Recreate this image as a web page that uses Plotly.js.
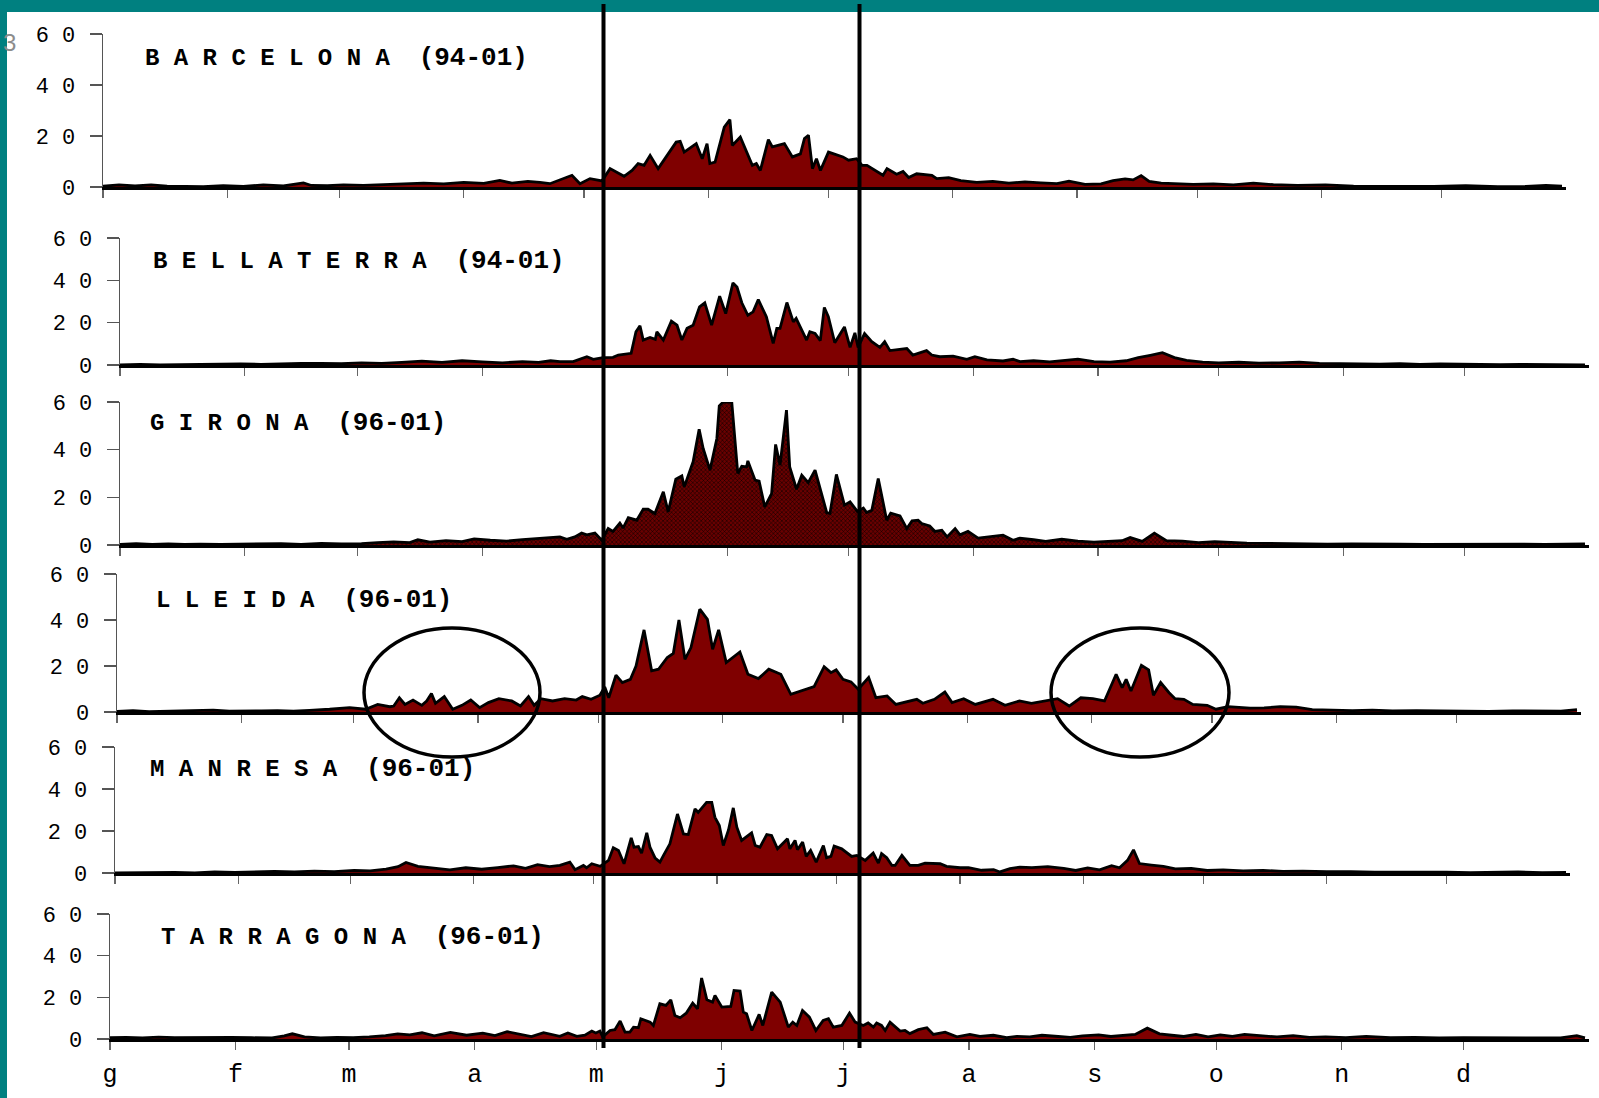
<!DOCTYPE html>
<html>
<head>
<meta charset="utf-8">
<script src="https://cdn.plot.ly/plotly-3.0.1.min.js"></script>
<style>html,body{margin:0;padding:0;background:#fff;}#chart{width:1599px;height:1098px;}</style>
</head>
<body>
<div id="chart"></div>
<script>
// ---- DATA (day of year, daily value) ----
const monthStarts = [0,31,59,90,120,151,181,212,243,273,304,334];
const monthLabels = ['g','f','m','a','m','j','j','a','s','o','n','d'];
const yTickVals = [0,20,40,60];
const yTickText = ['0','2 0','4 0','6 0'];
const stationNames = ['B A R C E L O N A','B E L L A T E R R A','G I R O N A','L L E I D A','M A N R E S A','T A R R A G O N A'];
const stationPeriods = ['(94-01)','(94-01)','(96-01)','(96-01)','(96-01)','(96-01)'];

const barcelona = [[0,0.3],[4,0.8],[8,0.4],[12,0.8],[16,0.3],[20,0.1],[25,0.1],[30,0.5],[35,0.2],[40,0.8],[45,0.4],[50,1.6],[52,0.6],[56,0.5],[60,0.8],[65,0.6],[70,0.9],[75,1.2],[80,1.5],[85,1.2],[90,1.8],[95,1.4],[99,2.6],[102,1.5],[106,2.2],[109,1.8],
[111.5,1.3],[117,4.6],[119,1.3],[121.5,3.3],[124.5,2.4],[126.5,7.2],[130,4.2],[132,6.5],[133.5,9.2],[135,8.5],[136.5,12.4],[138.5,7.2],[140,10.5],[143,17.6],[144,17.9],[145,13.7],[148,17],[149.5,11.1],[150.7,17],[151.4,9.2],[152.7,9.8],[155,23.5],[156.4,26.4],[157,16.3],[159,19.6],[162,8.5],[163,9.2],[164,6.5],[166,18.6],[167,15.7],[170,17],[172,11.8],[174,13],[175,19],[176,20.3],[177,7.2],[178,11.1],[179,6.5],[181,13.7],[184.6,11.8],[186,10.5],[188,11.1],[189.4,8.5],[190.6,8.5],[194.6,4.6],[195.6,7.2],[198,5],[199.6,6.1],[201,3.7],[203,5.2],[206.8,4.6],[208,3.3],[211,3.7],
[214,2.5],[218,1.8],[222,2.2],[226,1.5],[230,2.0],[234,1.6],[238,1.3],[241,2.3],[245,1.0],[249,1.2],[252,2.5],[255,3.2],[257,2.8],[259,4.5],[261,2.2],[264,1.5],[268,1.2],[272,1.0],[277,1.2],[282,0.8],[287,1.5],[292,0.9],[298,0.6],[305,0.8],[312,0.3],[318,0.3],[325,0.2],[332,0.2],[340,0.5],[348,0.1],[355,0.2],[360,0.6],[364,0.3]];

const bellaterra = [[0,0.1],[5,0.3],[10,0.1],[15,0.2],[20,0.4],[25,0.2],[30,0.5],[35,0.3],[40,0.6],[45,0.8],[50,0.7],[55,0.6],[60,1.0],[65,0.8],[70,1.2],[75,1.8],[80,1.2],[85,2.0],[90,1.5],[95,1.0],[100,1.6],[104,1.2],[107,2.0],
[109.3,1.6],[112.6,1.6],[116,3.9],[117.6,2.7],[120,3.5],[122.5,3.6],[123.8,4.7],[127,5.5],[128.2,15.7],[129.2,18.5],[130,11.8],[131.7,13],[133,12.1],[133.4,15.7],[135,11.8],[137,20.7],[138.4,18.8],[139.6,11.8],[140.9,17.3],[142.4,18.8],[144,27.5],[145.3,29.4],[147,18.8],[149,32.5],[150.5,24.3],[152.3,38.8],[153.3,36.9],[154.5,29.4],[156,23.5],[157.3,25.1],[158.6,30.9],[160.6,22.8],[162.3,10.2],[163.2,17.3],[164,17.3],[165.7,29.5],[167.3,20.4],[168,22],[170.6,11.8],[171.4,15.7],[172.7,14.9],[174,11.5],[175,27.2],[176,22.8],[177.6,10.5],[180,18],[181.4,8.3],[182.6,15.2],[183.4,8.3],[185,14.9],[186.8,11],[188.8,8.3],[190,11],[191.3,6.8],[195.5,7.8],[197,4.7],[200.4,6.8],[201.7,4.7],[203.7,3.9],[207,4.2],[210.4,2.7],[212.4,3.9],[215.4,2.4],[219.4,1.9],[221.9,2.7],[223.6,1.6],
[227,2.0],[231,1.5],[235,2.2],[238,2.8],[242,1.6],[246,1.4],[250,2.0],[253,3.5],[256,4.6],[259,5.8],[262,3.5],[265,2.2],[269,1.4],[273,1.0],[278,1.3],[283,0.9],[288,1.0],[293,1.4],[298,0.8],[303,0.6],[308,0.5],[313,0.4],[318,0.6],[323,0.3],[328,0.5],[333,0.3],[338,0.4],[343,0.2],[348,0.3],[353,0.2],[358,0.3],[364,0.1]];

const girona = [[0,0.3],[4,0.6],[8,0.2],[12,0.5],[16,0.2],[20,0.4],[25,0.3],[30,0.5],[35,0.4],[40,0.6],[45,0.3],[50,0.7],[55,0.5],[60,0.6],[64,1.0],[68,1.3],[72,1.0],[74,2.2],[77,1.2],[81,1.8],[85,1.4],[88,2.6],[92,2.0],[96,1.6],[100,2.3],[104,2.8],[107,3.2],
[109.3,3.4],[111,2.4],[113,3.4],[114.7,5],[116,4.3],[118,5],[119.7,2],[121.3,6.9],[122.5,5.7],[124.2,9.2],[125,7.1],[126.3,11.5],[128.4,10.4],[130,15],[131.2,15],[132.9,13.2],[135,22.3],[136.2,13.9],[138.1,27.6],[139.6,29],[140.2,24.4],[142.4,34.9],[143.9,48.6],[144.9,40.5],[146.6,31.4],[148.3,44.7],[148.9,58.4],[149.9,60],[152,60],[153.5,30],[154.5,33],[155.7,32.8],[156,35.3],[157.8,27.2],[158.8,26.8],[160.2,16],[161.9,21.6],[162.9,42.2],[164,33.5],[165.6,56.6],[166.4,32.8],[168.1,23.4],[169.4,29.3],[171,26.2],[172.7,31.4],[175.6,13.6],[176.4,13.2],[178,29.6],[180,16.7],[181.4,18.1],[183.2,14.1],[184.7,15.5],[185.5,13.6],[186.8,14.6],[188.4,27.9],[190.5,10.4],[191.5,13.4],[193.8,12.2],[195.5,6.9],[196.8,10.1],[198.3,10.4],[199.2,9],[201.2,8],[202.5,5.7],[204.2,6.2],[205.5,3.4],[207.5,6.9],[208.7,4.3],[210.7,5.7],[213.2,2.9],[216.1,3.4],[219.4,4.1],[221.9,2],[223.6,2.9],
[227,2.2],[230,1.5],[234,2.4],[238,1.6],[242,1.2],[246,1.5],[249,1.8],[251,3.2],[254,1.5],[257,5.0],[260,1.8],[264,1.6],[268,1.0],[272,1.4],[276,1.0],[280,0.8],[285,0.7],[290,0.5],[295,0.6],[300,0.4],[306,0.5],[312,0.3],[318,0.4],[324,0.3],[330,0.4],[336,0.2],[342,0.3],[348,0.4],[354,0.2],[360,0.3],[364,0.5]];

const lleida = [[0,0.3],[4,0.6],[8,0.2],[12,0.4],[16,0.3],[20,0.5],[24,0.8],[28,0.4],[32,0.3],[36,0.5],[40,0.6],[44,0.4],[48,0.7],[51,0.9],
[53,1.2],[58,1.9],[62,1.2],[65,3.3],[68,2.3],[69,2.6],[70.4,6.2],[71.8,3.3],[73.8,5.2],[76,2.9],[77.2,4.8],[78.4,8],[79.4,3.8],[81.6,6.7],[83.7,1.2],[86,2.9],[88.2,5.2],[90.4,1.9],[92.6,4.1],[95.2,5.8],[98.4,4.8],[100.6,2.6],[102.6,6.7],[104,2.9],[105.7,5.8],[108.6,4.8],[111.6,5.8],[114.5,5.2],[116,6.7],[118.2,5.5],[120.4,7.3],[121.6,10.9],[122.6,6.2],[124.4,16],[126,12.8],[128,14.2],[129.4,20],[131.4,35.7],[133.3,17.9],[135,18.6],[137.2,23.7],[138.7,25.5],[140.1,40],[141.6,22.9],[143.1,28],[145.3,44.7],[147.2,40.3],[148.5,27.3],[150,35.7],[151.9,21.5],[155.3,26.1],[157.3,16.4],[159.9,14.5],[162.5,18.6],[165.5,16.4],[168,7.7],[171.7,9.9],[173.8,11],[176.3,19.7],[178,17.1],[179.3,18.3],[181,14.2],[183,13.1],[184.8,9.9],[187.4,15],[189.2,6.2],[192,7],[194.2,3.3],[199.4,5.5],[200.9,3.8],[203.8,5.5],[206.4,8.7],[208.2,4.1],[211.1,5.8],[214,3.3],[218.4,5.5],[221.4,2.9],[225,4.8],[228,3.8],[230.9,4.8],[234.5,5.8],[237.4,2.6],[240.3,6.2],[243.3,5.8],[246.2,4.8],[249.1,16.4],[250.6,10.6],[251.6,14.2],[252.8,9.1],[255.4,20.3],[257.2,18.3],[258.4,7.3],[260.2,12.8],[262.3,8.4],[263.8,5.8],[266,5.5],[268.2,3.3],[271.8,2.9],[274,1.2],[277,2.3],[282.5,1.7],
[286,1.8],[290,2.3],[294,2.1],[298,1.0],[303,0.8],[308,0.6],[313,0.8],[318,0.5],[324,0.6],[330,0.4],[336,0.5],[342,0.3],[348,0.5],[354,0.3],[360,0.4],[364,1.0]];

const manresa = [[0,0.1],[5,0.2],[10,0.1],[15,0.3],[20,0.1],[25,0.5],[30,0.3],[35,0.4],[40,0.8],[45,0.5],[50,0.9],[55,0.7],[60,1.2],[64,1.0],[68,1.8],[71,3.0],[73,5.0],[76,3.2],[80,2.2],[84,1.5],[88,2.5],[92,1.8],[96,2.6],[100,3.4],[103,2.2],[106,4.0],[109,3.0],
[111.6,3.6],[114.1,5.2],[115.4,1.6],[117.5,3.6],[118.3,2.5],[119.6,4.4],[121.7,3.2],[123.8,6],[125,12],[126.3,10.7],[127.7,4.4],[129.5,16.7],[130.2,12.3],[131.3,12.6],[132.1,9.5],[133.4,19.1],[134.2,12.3],[135.5,7.1],[136.7,5.2],[137.6,8.4],[139.2,13.9],[141.1,28.1],[142.6,18.6],[143.8,18.3],[145.5,30.5],[146.3,28.9],[148.4,33.6],[149.7,33.6],[150.5,26.5],[151.6,22.6],[152.6,13.1],[153.9,20.5],[155.1,31],[156,21.8],[157.2,15.5],[159.7,19.1],[160.6,13.1],[161.8,12.3],[163.5,18.3],[164.7,17.9],[166.2,11.5],[168.7,16.3],[169.3,11.5],[170.6,15.5],[171.2,11.1],[172.5,14.7],[173.4,7.9],[174.5,10.7],[175.9,5.2],[177.7,13.1],[178.5,7.3],[179.6,7.9],[180.4,12.8],[182.3,11.5],[184.8,7.9],[186.1,8.4],[188.2,6],[190.2,9.5],[191.5,4.7],[192.3,9.2],[193.6,7.3],[194.9,3.6],[195.7,3.6],[197.4,8.4],[199.4,3.6],[201.5,3.6],[203.2,4.7],[207,4.4],[208.6,3.2],[212,2.5],[214.1,2.5],[217.4,1.3],[220.4,1.6],[222,0.5],[224.5,2.1],[227,2.8],
[230,2.6],[234,3.0],[238,2.2],[241,1.2],[244,2.4],[247,1.5],[250,3.5],[252,2.5],[254,6.0],[255.5,11.0],[257,4.5],[260,3.8],[263,3.2],[266,2.0],[270,2.2],[274,1.2],[278,1.5],[283,1.0],[288,1.2],[293,0.8],[298,0.9],[304,0.6],[310,0.7],[316,0.4],[322,0.5],[328,0.3],[334,0.4],[340,0.2],[346,0.3],[352,0.5],[358,0.2],[364,0.3]];

const tarragona = [[0,0.6],[4,0.8],[8,0.5],[12,0.9],[16,0.6],[20,0.7],[25,0.5],[30,0.8],[35,0.6],[40,0.5],[43,1.5],[45,2.5],[48,1.0],[52,0.5],[56,0.8],[60,0.6],[64,1.0],[68,1.6],[71,2.5],[74,2.0],[77,3.0],[80,1.5],[84,3.2],[88,1.8],[92,2.8],[95,1.6],[98,3.5],[101,2.2],[104,1.2],[107,3.0],[109,2.2],
[111,1.3],[113,2.9],[115.2,1.3],[117.2,1.8],[118.9,3.8],[119.9,2.9],[120.9,3.8],[121.6,1],[123.4,4.1],[124.6,4.5],[125.9,8.6],[127.1,3.3],[128.3,3.3],[129.2,5.7],[130.4,5.4],[131,9.7],[133.3,8.1],[134.1,6.5],[135.7,16.9],[137.2,16.1],[138.4,18.8],[139.4,11.3],[140.7,10.2],[142.2,12.4],[143.8,17.2],[145,14.5],[146,29.3],[147.3,18.8],[148.7,17.7],[149.3,20.9],[151,15.3],[153.2,15.6],[154,23.3],[155.5,23],[156.3,12.9],[157.1,12.1],[158.4,4.1],[160.2,11.8],[161.1,6.5],[163.3,22.5],[165.4,17.7],[167.4,5.7],[168.5,8.1],[169.5,6.5],[170.9,13.7],[172.6,10.5],[174.2,4.1],[176,8.9],[177.3,9.7],[178.5,5.7],[180.6,6.5],[182.5,12.4],[183.9,8.1],[185.9,6.5],[187.1,7.7],[188.4,5.7],[189.2,7.7],[190.4,6.5],[191.3,4.1],[192.5,8.1],[195,3.8],[196.2,4.1],[197.4,2.6],[199.5,4.5],[201.6,5.4],[203.2,2.2],[206.1,3.3],[209,1],[212.2,2.2],[214.7,1.3],[218,1.8],[221.3,0.6],[223.8,1.3],
[227,1.0],[230,1.8],[234,1.2],[237,0.8],[240,1.5],[244,2.0],[247,1.2],[250,1.8],[253,2.2],[256,5.2],[259,2.5],[262,1.8],[265,1.2],[268,2.2],[271,1.0],[274,2.0],[277,1.3],[280,2.2],[284,1.5],[288,1.0],[292,1.6],[296,0.8],[300,1.0],[305,0.7],[310,1.2],[316,0.6],[322,0.8],[328,0.5],[334,0.7],[340,0.6],[346,0.4],[352,0.6],[358,0.5],[362,1.6],[364,0.5]];

const series = [barcelona, bellaterra, girona, lleida, manresa, tarragona];

// ---- LAYOUT GEOMETRY (pixels) ----
const W = 1599, H = 1098;
const boxes = [
  {x0:103, x1:1566, yTop:34,  yBot:187},
  {x0:120, x1:1589, yTop:238, yBot:365},
  {x0:120, x1:1589, yTop:402, yBot:545},
  {x0:117, x1:1581, yTop:574, yBot:712},
  {x0:115, x1:1570, yTop:747, yBot:873},
  {x0:110, x1:1589, yTop:914, yBot:1039}
];
const titlePos = [[143,58],[151,261],[148,423],[154,600],[148,769],[159,937]];
const px = v => v / W;
const py = v => 1 - v / H;

const traces = [];
const layout = {
  width: W, height: H,
  margin: {l:0, r:0, t:0, b:0},
  paper_bgcolor: '#ffffff', plot_bgcolor: 'rgba(0,0,0,0)',
  showlegend: false,
  font: {family: 'Liberation Mono, monospace', color: '#000'},
  shapes: [], annotations: []
};

series.forEach((s, i) => {
  const n = i === 0 ? '' : String(i + 1);
  const b = boxes[i];
  const tr = {
    type: 'scatter', mode: 'lines',
    x: s.map(p => p[0]), y: s.map(p => p[1]),
    xaxis: 'x' + n, yaxis: 'y' + n,
    fill: 'tozeroy', fillcolor: '#7f0000',
    line: {color: '#000', width: 2.8, shape: 'linear'},
    hoverinfo: 'skip'
  };
  if (i === 2) {
    tr.fillpattern = {shape: 'x', fgcolor: '#000000', bgcolor: '#6a0000', size: 3, solidity: 0.3};
  }
  traces.push(tr);
  const last = i === series.length - 1;
  layout['xaxis' + n] = {
    domain: [px(b.x0), px(b.x1)], range: [0, 365], anchor: 'y' + n,
    showgrid: false, zeroline: false,
    showline: true, linecolor: '#000', linewidth: 2.5,
    ticks: 'outside', ticklen: 8, tickwidth: 1.2, tickcolor: '#666',
    tickvals: monthStarts, ticktext: monthLabels,
    showticklabels: last, ticklabelstandoff: 2,
    tickfont: {family: 'Liberation Mono, monospace', size: 25, color: '#000'},
    fixedrange: true
  };
  layout['yaxis' + n] = {
    domain: [py(b.yBot), py(b.yTop)], range: [0, 60], anchor: 'x' + n,
    showgrid: false, zeroline: false,
    showline: true, linecolor: '#555', linewidth: 1.3,
    ticks: 'outside', ticklen: 12, tickwidth: 1.3, tickcolor: '#555',
    tickvals: yTickVals, ticktext: yTickText, ticklabelstandoff: 10,
    tickfont: {family: 'Liberation Mono, monospace', size: 22, color: '#000'},
    fixedrange: true
  };
  layout.annotations.push({
    xref: 'paper', yref: 'paper',
    x: px(titlePos[i][0]), y: py(titlePos[i][1]),
    xanchor: 'left', yanchor: 'middle', showarrow: false,
    text: stationNames[i] + '\u00a0\u00a0<span style="font-size:26px">' + stationPeriods[i] + '</span>',
    font: {family: 'Liberation Mono, monospace', size: 24, color: '#000', weight: 'bold'}
  });
});

// teal frame
layout.shapes.push({type:'rect', xref:'paper', yref:'paper', x0:0, x1:1, y0:py(12), y1:1, fillcolor:'#008080', line:{width:0}, layer:'above'});
layout.shapes.push({type:'rect', xref:'paper', yref:'paper', x0:0, x1:px(7), y0:0, y1:1, fillcolor:'#008080', line:{width:0}, layer:'above'});
// vertical reference lines
[603.5, 859.5].forEach(xv => layout.shapes.push({type:'line', xref:'paper', yref:'paper', x0:px(xv), x1:px(xv), y0:py(4), y1:py(1048), line:{color:'#000', width:4}, layer:'above'}));
// ellipses on Lleida panel
layout.shapes.push({type:'circle', xref:'paper', yref:'paper', x0:px(364), x1:px(540), y0:py(757), y1:py(628), line:{color:'#000', width:3.5}, layer:'above'});
layout.shapes.push({type:'circle', xref:'paper', yref:'paper', x0:px(1051), x1:px(1229), y0:py(757), y1:py(628), line:{color:'#000', width:3.5}, layer:'above'});
// page number fragment at the left edge
layout.annotations.push({xref:'paper', yref:'paper', x:px(1), y:py(42), xanchor:'left', yanchor:'middle', showarrow:false, text:'3', font:{family:'Liberation Sans, Arial', size:24, color:'#8c8c8c'}});

Plotly.newPlot('chart', traces, layout, {displayModeBar: false, staticPlot: true});
</script>
</body>
</html>
